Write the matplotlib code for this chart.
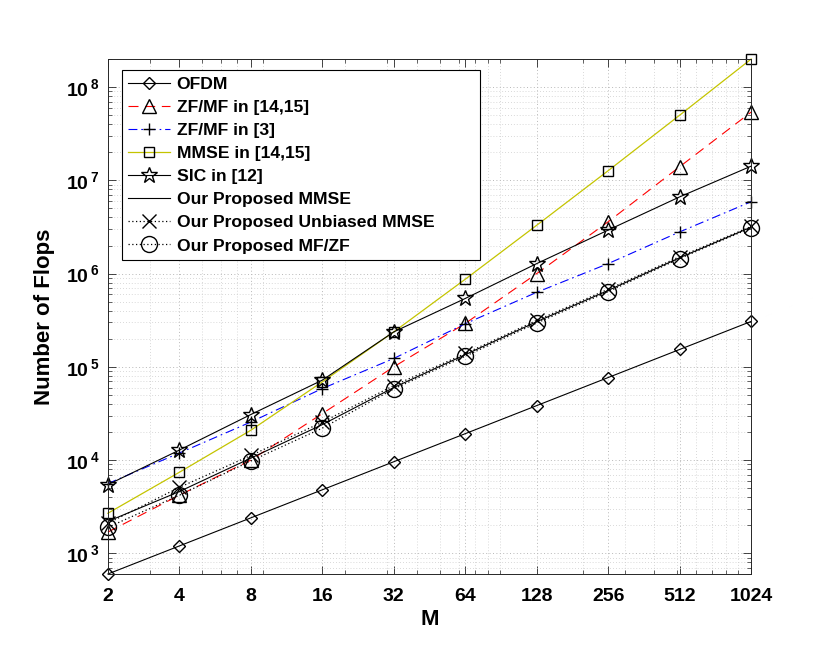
import matplotlib
matplotlib.use('Agg')
import matplotlib.pyplot as plt
from matplotlib.ticker import FixedLocator, LogLocator, NullFormatter

plt.rcParams['font.family'] = ['Liberation Sans', 'DejaVu Sans']
plt.rcParams['font.weight'] = 'bold'
plt.rcParams['mathtext.fontset'] = 'custom'
plt.rcParams['mathtext.bf'] = 'Liberation Sans:bold'
plt.rcParams['mathtext.rm'] = 'Liberation Sans:bold'

# number of subcarriers / antennas
M = [2, 4, 8, 16, 32, 64, 128, 256, 512, 1024]
m_labels = ['2', '4', '8', '16', '32', '64', '128', '256', '512', '1024']

# flops
ofdm = [600, 1200, 2400, 4800, 9600, 1.92e4, 3.84e4, 7.68e4, 1.536e5, 3.07e5]
zf_mf_1415 = [1.69e3, 4.2e3, 1.0e4, 3.15e4, 1.0e5, 2.92e5, 1.0e6, 3.6e6, 1.4e7, 5.4e7]
zf_mf_3 = [5.6e3, 1.19e4, 2.56e4, 5.85e4, 1.23e5, 2.9e5, 6.3e5, 1.28e6, 2.8e6, 5.9e6]
mmse_1415 = [2.69e3, 7.4e3, 2.09e4, 6.9e4, 2.37e5, 8.7e5, 3.3e6, 1.27e7, 5.0e7, 2.0e8]
sic_12 = [5.45e3, 1.28e4, 3.08e4, 7.2e4, 2.37e5, 5.41e5, 1.28e6, 2.93e6, 6.65e6, 1.42e7]
our_mmse = [2.2e3, 4.6e3, 1.05e4, 2.4e4, 6.0e4, 1.35e5, 3.05e5, 6.6e5, 1.48e6, 3.15e6]
our_unbiased = [2.1e3, 5.1e3, 1.12e4, 2.55e4, 6.3e4, 1.39e5, 3.15e5, 6.8e5, 1.52e6, 3.2e6]
our_mfzf = [1.9e3, 4.2e3, 9.8e3, 2.2e4, 5.8e4, 1.3e5, 2.95e5, 6.4e5, 1.45e6, 3.1e6]

fig = plt.figure(figsize=(8.3, 6.56), dpi=100)
ax = fig.add_axes([0.130, 0.125, 0.775, 0.785])

mk = dict(markerfacecolor='none', markeredgecolor='k', markeredgewidth=1.0, clip_on=False)
ax.plot(M, ofdm, color='k', lw=0.8, marker='D', ms=6.5, label='OFDM', **mk)
ax.plot(M, zf_mf_1415, color='r', lw=0.8, ls=(0, (9, 6)), marker='^', ms=9.5,
        label='ZF/MF in [14,15]', **mk)
ax.plot(M, zf_mf_3, color='b', lw=0.8, ls=(0, (8, 3.5, 1.5, 3.5)), marker='+', ms=9,
        label='ZF/MF in [3]', **mk)
ax.plot(M, mmse_1415, color='#c4c400', lw=0.9, marker='s', ms=7, label='MMSE in [14,15]', **mk)
ax.plot(M, sic_12, color='k', lw=0.8, marker='*', ms=12, label='SIC in [12]', **mk)
ax.plot(M, our_mmse, color='k', lw=0.8, label='Our Proposed MMSE')
ax.plot(M, our_unbiased, color='k', lw=0.9, ls=(0, (1, 2)), marker='x', ms=9.5,
        label='Our Proposed Unbiased MMSE', **mk)
ax.plot(M, our_mfzf, color='k', lw=0.9, ls=(0, (1, 2)), marker='o', ms=11.5,
        label='Our Proposed MF/ZF', **mk)

ax.set_xscale('log', base=2)
ax.set_yscale('log')
ax.set_xlim(M[0], M[-1])
all_vals = ofdm + zf_mf_1415 + zf_mf_3 + mmse_1415 + sic_12 + our_mmse + our_unbiased + our_mfzf
ax.set_ylim(min(all_vals), max(all_vals))

ax.xaxis.set_major_locator(FixedLocator(M))
ax.set_xticklabels(m_labels)
ax.xaxis.set_minor_locator(LogLocator(base=10, subs=range(2, 10), numticks=50))
ax.xaxis.set_minor_formatter(NullFormatter())

yt = [1e3, 1e4, 1e5, 1e6, 1e7, 1e8]
ax.yaxis.set_major_locator(FixedLocator(yt))
ax.set_yticklabels([r'$\mathbf{10^{\,%d}}$' % k for k in range(3, 9)])
ax.yaxis.set_minor_locator(LogLocator(base=10, subs=range(2, 10), numticks=50))
ax.yaxis.set_minor_formatter(NullFormatter())

ax.tick_params(which='both', direction='in', top=True, right=True, color='#262626')
ax.tick_params(which='major', length=6, width=0.6, labelsize=14, pad=6)
ax.tick_params(axis='x', which='major', pad=10)
ax.tick_params(which='minor', length=3, width=0.5)
for lab in ax.get_xticklabels():
    lab.set_fontweight('bold')

ax.grid(which='major', ls=(0, (1, 2.5)), color='#b8b8b8', lw=0.7)
ax.grid(which='minor', ls=(0, (1, 2.5)), color='#cccccc', lw=0.6)
for s in ax.spines.values():
    s.set_color('#262626')
    s.set_linewidth(0.7)

ax.set_xlabel('M', fontsize=16, fontweight='bold', labelpad=3)
ax.set_ylabel('Number of Flops', fontsize=16, fontweight='bold', labelpad=8)

leg = ax.legend(loc='upper left', bbox_to_anchor=(0.0213, 0.0, 0.557, 0.978), mode='expand',
                borderaxespad=0, fancybox=False, framealpha=1, edgecolor='k', fontsize=12.6,
                handlelength=2.4, labelspacing=0.45, borderpad=0.35, handletextpad=0.4)
leg.get_frame().set_linewidth(0.8)
for t in leg.get_texts():
    t.set_fontweight('bold')

fig.savefig('out.png', dpi=100)
